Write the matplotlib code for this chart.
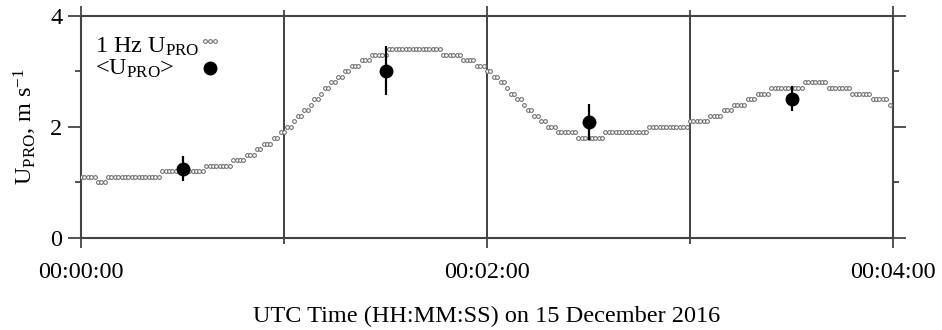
import numpy as np
import matplotlib
matplotlib.use("Agg")
import matplotlib.pyplot as plt
from matplotlib.ticker import MultipleLocator, FuncFormatter
from matplotlib.legend_handler import HandlerLine2D
from matplotlib.lines import Line2D

plt.rcParams['font.family'] = ['Liberation Serif', 'DejaVu Serif']
plt.rcParams['mathtext.fontset'] = 'custom'
plt.rcParams['mathtext.rm'] = 'Liberation Serif'
plt.rcParams['mathtext.it'] = 'Liberation Serif:italic'

# ============================================================
# DATA
# ============================================================
# 1 Hz U_PRO, stored as run lengths of the 0.1 m/s quantised levels
upro_levels = [1.1, 1.0, 1.1, 1.2, 1.3, 1.4, 1.5, 1.6, 1.7, 1.8, 1.9, 2.0, 2.1,
               2.2, 2.3, 2.4, 2.5, 2.6, 2.7, 2.8, 2.9, 3.0,
               3.1, 3.2, 3.3, 3.4, 3.3, 3.2, 3.1, 3.0, 2.9, 2.8, 2.7, 2.6,
               2.5, 2.4, 2.3, 2.2, 2.1, 2.0, 1.9, 1.8,
               1.9, 2.0, 2.1, 2.2, 2.3, 2.4, 2.5, 2.6, 2.7, 2.8, 2.7, 2.6,
               2.5, 2.4]
upro_counts = [5, 3, 16, 13, 8, 4, 3, 2, 3, 2, 2, 2, 1,
               2, 2, 1, 2, 1, 2, 2, 2, 2,
               3, 3, 5, 16, 6, 4, 3, 2, 2, 2, 1, 2,
               2, 1, 2, 2, 2, 3, 6, 8,
               13, 12, 6, 4, 3, 4, 3, 4, 10, 7, 7, 6,
               5, 1]

# one-minute means and their standard deviations
mean_time = [30, 90, 150, 210]          # seconds after 00:00:00
mean_upro = [1.25, 3.01, 2.09, 2.51]
std_upro = [0.22, 0.44, 0.33, 0.22]

legend_labels = [r'1 Hz $\mathrm{U_{PRO}}$', r'<$\mathrm{U_{PRO}}$>']

upro_1hz = np.repeat(upro_levels, upro_counts)
t_1hz = np.arange(len(upro_1hz))

# ============================================================
# PLOT
# ============================================================
fig = plt.figure(figsize=(9.42, 3.3), dpi=100)
ax = fig.add_axes([0.086, 0.279, 0.862, 0.673])

grey = '#444444'
fs = 17.5

hz_line, = ax.plot(t_1hz, upro_1hz, linestyle='none', marker='o', markersize=2.7,
                   markerfacecolor='white', markeredgecolor='#6a6a6a',
                   markeredgewidth=0.75, zorder=3)

eb = ax.errorbar(mean_time, mean_upro, yerr=std_upro, fmt='o', color='black',
                 markersize=9, elinewidth=1.6, capsize=0, zorder=4)
mean_line = eb[0]

ax.set_xlim(0, 240)
ax.set_ylim(0, 4)

ax.xaxis.set_major_locator(MultipleLocator(120))
ax.xaxis.set_minor_locator(MultipleLocator(60))
ax.yaxis.set_major_locator(MultipleLocator(2))
ax.yaxis.set_minor_locator(MultipleLocator(1))


def hms(x, pos):
    s = int(round(x))
    return f"{s // 3600:02d}:{(s % 3600) // 60:02d}:{s % 60:02d}"


ax.xaxis.set_major_formatter(FuncFormatter(hms))

ax.tick_params(axis='both', which='both', direction='out', color=grey,
               width=1.3, labelsize=fs, top=True, right=True)
ax.tick_params(axis='y', which='major', length=9.5, pad=4)
ax.tick_params(axis='y', which='minor', length=4)
ax.tick_params(axis='x', which='major', length=7.5, pad=10)
ax.tick_params(axis='x', which='minor', length=4)

for sp in ax.spines.values():
    sp.set_color(grey)
    sp.set_linewidth(1.5)

for xv in (60, 120, 180):
    ax.axvline(xv, color='#333333', linewidth=1.3, zorder=1)

ax.set_xlabel('UTC Time (HH:MM:SS) on 15 December 2016', fontsize=fs, labelpad=16)
ax.set_ylabel(r'$\mathrm{U_{PRO}}$, m s$^{\mathrm{-1}}$', fontsize=fs, labelpad=8)

# legend: labels in one left-aligned block, markers in a column to the right
blank = [Line2D([], [], linestyle='none') for _ in legend_labels]
leg_text = ax.legend(blank, legend_labels, loc='upper left',
                     bbox_to_anchor=(0.017, 0.91), frameon=False, fontsize=fs,
                     handlelength=0, handletextpad=0, labelspacing=0.0,
                     borderpad=0, borderaxespad=0)
ax.add_artist(leg_text)

ax.legend([hz_line, mean_line], ['', ''], loc='upper left',
          bbox_to_anchor=(0.144, 0.925), frameon=False, fontsize=fs,
          numpoints=3, handlelength=1.0, handletextpad=0, labelspacing=0.2,
          borderpad=0, borderaxespad=0,
          handler_map={mean_line: HandlerLine2D(numpoints=1)})

plt.savefig('out.png', dpi=100)
